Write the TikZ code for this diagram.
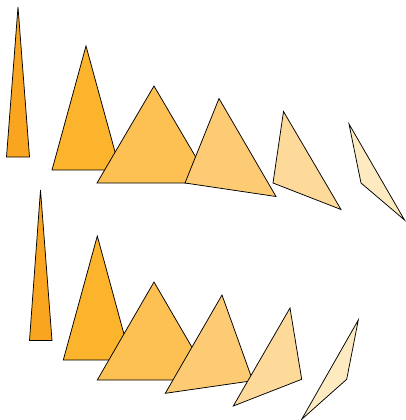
\documentclass[tikz,border=0pt]{standalone}
\usepackage{tikz}

\definecolor{shadeA}{HTML}{F9A51F}
\definecolor{shadeB}{HTML}{FBB42B}
\definecolor{shadeC}{HTML}{FCC152}
\definecolor{shadeD}{HTML}{FDCB73}
\definecolor{shadeE}{HTML}{FEDA9A}
\definecolor{shadeF}{HTML}{FEEAC0}

\tikzset{
  tri/.style={draw=black, line width=0.75pt}
}

\begin{document}
\begin{tikzpicture}[x=1pt,y=-1pt]

\useasboundingbox (0,0) rectangle (405,420);

% Upper row
\filldraw[tri, fill=shadeA] (18,7) -- (29.5,157) -- (6.5,157) -- cycle;
\filldraw[tri, fill=shadeB] (86,46) -- (120,170) -- (52,170) -- cycle;
\filldraw[tri, fill=shadeC] (154,86) -- (211,183) -- (97,183) -- cycle;
\filldraw[tri, fill=shadeD] (219,98.5) -- (276,196.5) -- (185,183) -- cycle;
\filldraw[tri, fill=shadeE] (283.5,111.5) -- (341,209.5) -- (273,183) -- cycle;
\filldraw[tri, fill=shadeF] (349,124) -- (404.5,220) -- (361,183) -- cycle;

% Lower row
\filldraw[tri, fill=shadeA] (40.5,190) -- (52,340.5) -- (29.5,340.5) -- cycle;
\filldraw[tri, fill=shadeB] (97.3,236) -- (131,360) -- (63.3,360) -- cycle;
\filldraw[tri, fill=shadeC] (154,282) -- (211,380) -- (97.3,380) -- cycle;
\filldraw[tri, fill=shadeD] (222,295) -- (252.7,380.7) -- (165.3,393.3) -- cycle;
\filldraw[tri, fill=shadeE] (290,308) -- (301.7,379.3) -- (233.3,406) -- cycle;
\filldraw[tri, fill=shadeF] (358.3,320) -- (346.7,379.3) -- (301.7,419.3) -- cycle;

\end{tikzpicture}
\end{document}
